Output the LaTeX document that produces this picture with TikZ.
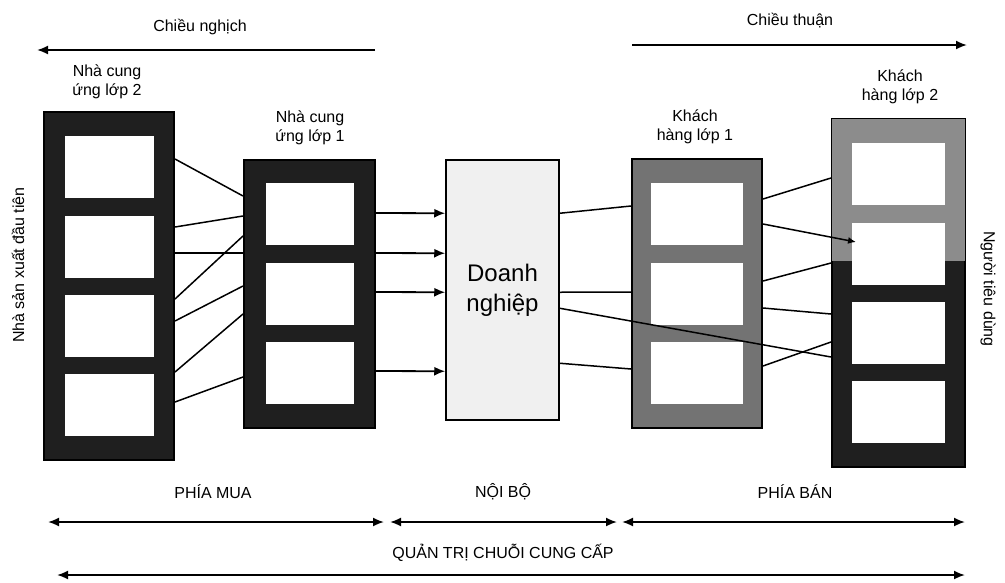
\documentclass[tikz,border=0pt]{standalone}
\usepackage{fontspec}
\setmainfont{Liberation Sans}
\usetikzlibrary{positioning,arrows.meta}
\newcommand{\lbfont}{\fontsize{16}{19}\selectfont}
\newcommand{\dnfont}{\fontsize{24}{30}\selectfont}

\begin{document}
\begin{tikzpicture}[x=1pt,y=-1pt,
  darkframe/.style={draw,line width=2pt,fill=black!88,inner sep=0pt},
  greyframe/.style={draw,line width=2pt,fill=black!55,inner sep=0pt},
  cell/.style={fill=white,inner sep=0pt,minimum height=62pt},
  lbl/.style={align=center,font=\lbfont,inner sep=1pt},
  link/.style={line width=1.5pt},
  flow/.style={line width=1.8pt,-{Latex[length=11pt,width=9pt]}},
  span/.style={line width=1.8pt,{Latex[length=11pt,width=9pt]}-{Latex[length=11pt,width=9pt]}}]
\useasboundingbox (0,0) rectangle (1005,582);

% direction arrows
\coordinate (N0) at (375,50);
\coordinate (N1) at (37,50);
\coordinate (T0) at (632,45);
\coordinate (T1) at (967,45);
\node[lbl] (nghich) at (200,27) {Chiều nghịch};
\node[lbl] (thuan) at (790,21) {Chiều thuận};
\draw[flow] (N0)--(N1);
\draw[flow] (T0)--(T1);

% suppliers tier 2
\node[darkframe,minimum width=130pt,minimum height=348pt] (ncu2) at (109,286) {};
\node[cell,minimum width=89pt,below=25pt of ncu2.north] (ncu2a) {};
\node[cell,minimum width=89pt,below=17pt of ncu2a] (ncu2b) {};
\node[cell,minimum width=89pt,below=17pt of ncu2b] (ncu2c) {};
\node[cell,minimum width=89pt,below=17pt of ncu2c] (ncu2d) {};
\node[lbl] (ncu2t) at (107,82) {Nhà cung\\ứng lớp 2};

% suppliers tier 1
\node[darkframe,minimum width=131pt,minimum height=268pt] (ncu1) at (309.5,294) {};
\node[cell,minimum width=88pt,below=24pt of ncu1.north] (ncu1a) {};
\node[cell,minimum width=88pt,below=17pt of ncu1a] (ncu1b) {};
\node[cell,minimum width=88pt,below=17pt of ncu1b] (ncu1c) {};
\node[lbl] (ncu1t) at (310,128) {Nhà cung\\ứng lớp 1};

% company
\node[draw,line width=1.5pt,fill=black!6,minimum width=113pt,minimum height=260pt,
  align=center,font=\dnfont] (dn) at (502.5,290) {Doanh\\nghiệp};

% customers tier 1
\node[greyframe,minimum width=130pt,minimum height=269pt] (kh1) at (697,293.5) {};
\node[cell,minimum width=92pt,below=25pt of kh1.north] (kh1a) {};
\node[cell,minimum width=92pt,below=17pt of kh1a] (kh1b) {};
\node[cell,minimum width=92pt,below=17pt of kh1b] (kh1c) {};
\node[lbl] (kh1t) at (695,127) {Khách\\hàng lớp 1};

% customers tier 2
\node[darkframe,minimum width=133pt,minimum height=348pt] (kh2) at (898.5,293) {};
\fill[black!45] ([shift={(1pt,-1pt)}]kh2.north west) rectangle ([shift={(-1pt,-143pt)}]kh2.north east);
\node[cell,minimum width=93pt,below=25pt of kh2.north] (kh2a) {};
\node[cell,minimum width=93pt,below=17pt of kh2a] (kh2b) {};
\node[cell,minimum width=93pt,below=17pt of kh2b] (kh2c) {};
\node[cell,minimum width=93pt,below=17pt of kh2c] (kh2d) {};
\node[lbl] (kh2t) at (900,87) {Khách\\hàng lớp 2};

\node[lbl,rotate=90] (nsx) at (18,265) {Nhà sản xuất đầu tiên};
\node[lbl,rotate=-90] (ntd) at (988,289) {Người tiêu dùng};

% tier 2 -> tier 1
\draw[link] ([yshift=-48pt]ncu2.north east) -- ([yshift=-37pt]ncu1.north west);
\draw[link] ([yshift=-116pt]ncu2.north east) -- ([yshift=-57pt]ncu1.north west);
\draw[link] ([yshift=-142pt]ncu2.north east) -- ([yshift=-94pt]ncu1.north west);
\draw[link] ([yshift=-188pt]ncu2.north east) -- ([yshift=-77pt]ncu1.north west);
\draw[link] ([yshift=-210pt]ncu2.north east) -- ([yshift=-127pt]ncu1.north west);
\draw[link] ([yshift=-261pt]ncu2.north east) -- ([yshift=-155pt]ncu1.north west);
\draw[link] ([yshift=-291pt]ncu2.north east) -- ([yshift=-218pt]ncu1.north west);

% tier 1 -> company
\draw[flow] ([yshift=-54pt]ncu1.north east) -- ([yshift=-54pt]dn.north west);
\draw[flow] ([yshift=-94pt]ncu1.north east) -- ([yshift=-94pt]dn.north west);
\draw[flow] ([yshift=-133pt]ncu1.north east) -- ([yshift=-133pt]dn.north west);
\draw[flow] ([yshift=-212pt]ncu1.north east) -- ([yshift=-212pt]dn.north west);

% company -> customers
\draw[link] ([yshift=-54pt]dn.north east) -- ([yshift=-48pt]kh1.north west);
\draw[link] ([yshift=-133pt]dn.north east) -- ([yshift=-134pt]kh1.north west);
\draw[link] ([yshift=-204pt]dn.north east) -- ([yshift=-211pt]kh1.north west);
\draw[link] ([yshift=-149pt]dn.north east) -- ([yshift=-239pt]kh2.north west);

% customers tier 1 -> tier 2
\draw[link] ([yshift=-41pt]kh1.north east) -- ([yshift=-60pt]kh2.north west);
\draw[link,-{Latex[length=8pt,width=7pt]}] ([yshift=-66pt]kh1.north east) -- ([xshift=25pt,yshift=-124pt]kh2.north west);
\draw[link] ([yshift=-123pt]kh1.north east) -- ([yshift=-145pt]kh2.north west);
\draw[link] ([yshift=-150pt]kh1.north east) -- ([yshift=-196pt]kh2.north west);
\draw[link] ([yshift=-208pt]kh1.north east) -- ([yshift=-224pt]kh2.north west);

% scope arrows
\node[lbl] (mua) at (213,492) {PHÍA MUA};
\node[lbl] (noibo) at (503,492) {NỘI BỘ};
\node[lbl] (ban) at (795,492) {PHÍA BÁN};
\coordinate (m0) at (48,522);
\coordinate (m1) at (384,522);
\coordinate (b0) at (390,522);
\coordinate (b1) at (617,522);
\coordinate (s0) at (622,522);
\coordinate (s1) at (965,522);
\draw[span] (m0)--(m1);
\draw[span] (b0)--(b1);
\draw[span] (s0)--(s1);
\node[lbl] (qt) at (503,553) {QUẢN TRỊ CHUỖI CUNG CẤP};
\coordinate (q0) at (57,575);
\coordinate (q1) at (965,575);
\draw[span] (q0)--(q1);
\end{tikzpicture}
\end{document}
